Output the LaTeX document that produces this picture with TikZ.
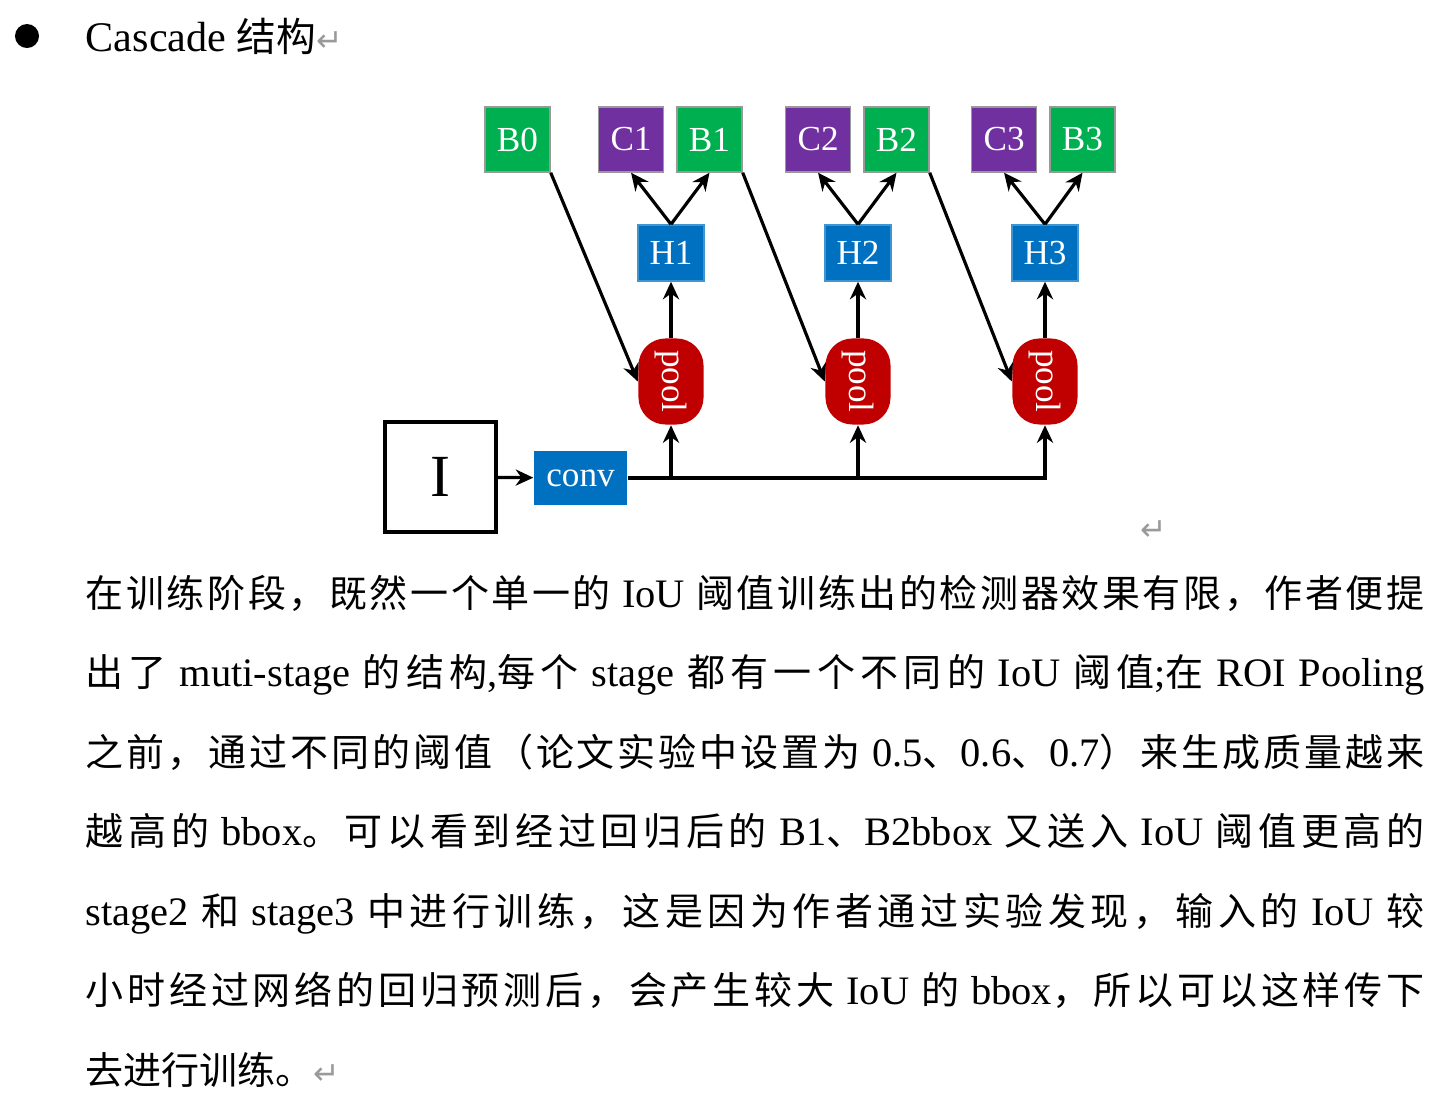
\documentclass[tikz,border=0pt]{standalone}
\usepackage{fontspec}
\usepackage{graphicx}
\setmainfont{Liberation Serif}
\newfontfamily\zh{Noto Sans CJK SC}[Scale=0.94]
\newfontfamily\sym{DejaVu Sans}
\usetikzlibrary{arrows.meta}
\usetikzlibrary{positioning}
\definecolor{boxgreen}{HTML}{00B050}
\definecolor{boxpurple}{HTML}{7030A0}
\definecolor{boxblue}{HTML}{0070C0}
\definecolor{poolred}{HTML}{C00000}
\definecolor{retgray}{HTML}{9A9A9A}
% stretchable glue between CJK characters, for the justified lines
\XeTeXinterchartokenstate=1
\count255="4E00
\loop \XeTeXcharclass\count255=10 \advance\count255 by 1 \ifnum\count255<"A000 \repeat
\count255="3000
\loop \XeTeXcharclass\count255=10 \advance\count255 by 1 \ifnum\count255<"3040 \repeat
\count255="FF00
\loop \XeTeXcharclass\count255=10 \advance\count255 by 1 \ifnum\count255<"FFF0 \repeat
\XeTeXinterchartoks 10 10 = {\hskip 0pt plus 3pt\relax}
\newcommand{\jline}[1]{\makebox[13.38cm][s]{#1}}
\newcommand{\retmark}{{\sym\color{retgray}\fontsize{9pt}{10pt}\selectfont ↵}}

\begin{document}
\begin{tikzpicture}[x=0.01cm, y=-0.01cm,
                    >={Stealth[length=5pt,width=4.6pt]},
                    arr/.style={->, line width=0.9pt},
                    lbl/.style={text=white, inner sep=0pt, font=\fontsize{10pt}{12pt}\selectfont},
                    bbox/.style={lbl, draw=gray!80, line width=0.4pt, fill=boxgreen,
                                 minimum width=0.65cm, minimum height=0.65cm},
                    cbox/.style={bbox, fill=boxpurple},
                    hbox/.style={lbl, draw=boxblue!75, line width=0.4pt, fill=boxblue,
                                 minimum width=0.66cm, minimum height=0.56cm},
                    pbox/.style={lbl, fill=poolred, rounded corners=0.27cm,
                                 minimum width=0.65cm, minimum height=0.86cm},
                    txt/.style={anchor=base west, inner sep=0pt, font=\fontsize{11.5pt}{14pt}\selectfont}
                    ]
  \useasboundingbox (0,0) rectangle (1455,1111);
  % heading
  \node[circle, fill=black, inner sep=0pt, minimum size=0.24cm] (dot) at (27,36) {};
  \node[txt, font=\fontsize{12pt}{14pt}\selectfont] (head) at (85,51) {Cascade {\zh 结构}\retmark};

  % boxes of the cascade
  \node[bbox] (B0) at (517.5,139.5) {B0};
  \node[bbox] (B1) at (709.5,139.5) {B1};
  \node[cbox, left=0.12cm of B1] (C1) {C1};
  \node[bbox] (B2) at (896.5,139.5) {B2};
  \node[cbox, left=0.12cm of B2] (C2) {C2};
  \node[bbox] (B3) at (1082.5,139.5) {B3};
  \node[cbox, left=0.12cm of B3] (C3) {C3};
  \node[hbox] (H1) at (671,253) {H1};
  \node[hbox] (H2) at (858,253) {H2};
  \node[hbox] (H3) at (1045,253) {H3};
  \node[pbox, below=0.56cm of H1] (P1) {\rotatebox{-90}{pool}};
  \node[pbox, below=0.56cm of H2] (P2) {\rotatebox{-90}{pool}};
  \node[pbox, below=0.56cm of H3] (P3) {\rotatebox{-90}{pool}};
  \node[draw, line width=0.9pt, inner sep=0pt, minimum width=1.11cm, minimum height=1.1cm,
        font=\fontsize{17pt}{18pt}\selectfont] (I) at (440.5,477) {I};
  \node[lbl, fill=boxblue, minimum width=0.93cm, minimum height=0.54cm] (conv) at (580.5,478) {conv};

  \draw[arr] (I) -- (conv);
  \draw[arr] (conv) -| (P3);
  \draw[arr] (conv -| P1) -- (P1);
  \draw[arr] (conv -| P2) -- (P2);
  \draw[arr] (P1) -- (H1);
  \draw[arr] (P2) -- (H2);
  \draw[arr] (P3) -- (H3);
  \draw[arr] (H1.north) -- (C1.south);
  \draw[arr] (H1.north) -- (B1.south);
  \draw[arr] (H2.north) -- (C2.south);
  \draw[arr] (H2.north) -- (B2.south);
  \draw[arr] (H3.north) -- (C3.south);
  \draw[arr] (H3.north) -- (B3.south);
  \draw[arr] (B0.south east) -- (P1.west);
  \draw[arr] (B1.south east) -- (P2.west);
  \draw[arr] (B2.south east) -- (P3.west);
  \node[txt] (ret) at (1140,540) {\retmark};

  % paragraph
  \node[txt] (L1) at (85,607) {\jline{{\zh 在训练阶段，既然一个单一的} IoU {\zh 阈值训练出的检测器效果有限，作者便提}}};
  \node[txt] (L2) at (85,686.5) {\jline{{\zh 出了} muti-stage {\zh 的结构},{\zh 每个} stage {\zh 都有一个不同的} IoU {\zh 阈值};{\zh 在} ROI Pooling}};
  \node[txt] (L3) at (85,766) {\jline{{\zh 之前，通过不同的阈值（论文实验中设置为} 0.5{\zh 、}0.6{\zh 、}0.7{\zh ）来生成质量越来}}};
  \node[txt] (L4) at (85,845.5) {\jline{{\zh 越高的} bbox{\zh 。可以看到经过回归后的} B1{\zh 、}B2bbox {\zh 又送入} IoU {\zh 阈值更高的}}};
  \node[txt] (L5) at (85,925) {\jline{stage2 {\zh 和} stage3 {\zh 中进行训练，这是因为作者通过实验发现，输入的} IoU {\zh 较}}};
  \node[txt] (L6) at (85,1004.5) {\jline{{\zh 小时经过网络的回归预测后，会产生较大} IoU {\zh 的} bbox{\zh ，所以可以这样传下}}};
  \node[txt] (L7) at (85,1084) {{\zh 去进行训练。}\retmark};
\end{tikzpicture}
\end{document}
